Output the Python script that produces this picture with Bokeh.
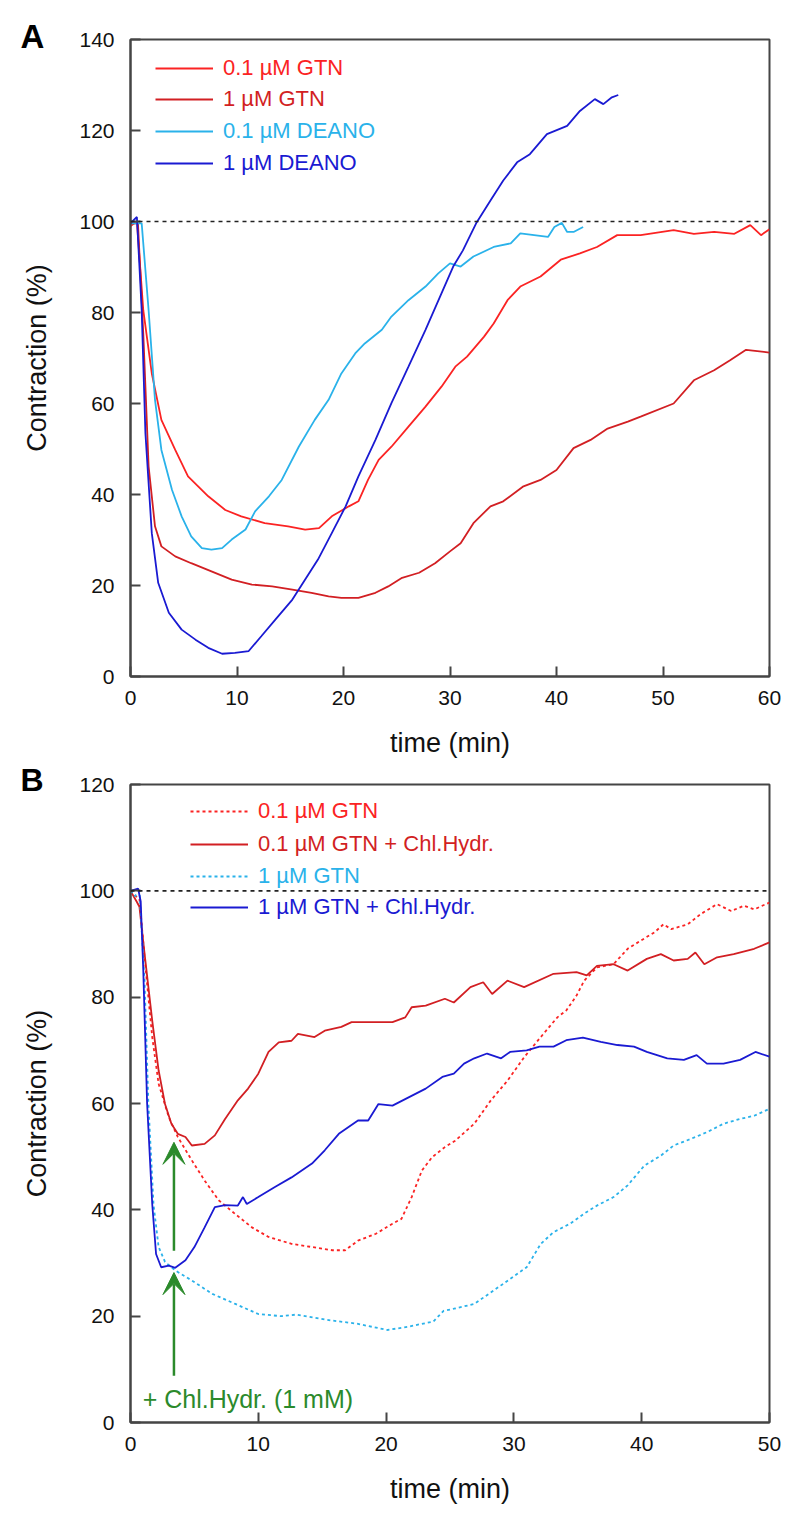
from bokeh.plotting import figure
from bokeh.models import (Range1d, Legend, LegendItem, Label, Arrow, VeeHead,
                          Span, FixedTicker, ColumnDataSource)
from bokeh.layouts import column
from bokeh.embed import file_html
from bokeh.resources import INLINE

# ---------------- data: panel A ----------------
a_gtn01_x = [0, 0.6, 1.2, 2.0, 2.9, 4.2, 5.4, 7.3, 8.9, 10.4, 12.6, 14.8, 16.4, 17.7, 18.9,
             20.5, 21.4, 22.3, 23.3, 24.5, 26.1, 27.7, 29.2, 30.5, 31.6, 33.2, 34.1, 35.4,
             36.6, 38.5, 40.4, 42.2, 43.8, 45.7, 47.9, 51.0, 52.9, 54.8, 56.7, 58.2, 59.2, 60]
a_gtn01_y = [99, 100, 80.5, 66.6, 56.4, 49.8, 44, 39.6, 36.6, 35.2, 33.7, 33.0, 32.3, 32.6, 35.2,
             37.4, 38.5, 43.2, 47.6, 50.5, 54.9, 59.3, 63.7, 68.1, 70.3, 74.7, 77.6, 82.7,
             85.7, 87.9, 91.6, 93.0, 94.4, 97.0, 97.0, 98.1, 97.3, 97.7, 97.3, 99.2, 97.0, 98.3]

a_gtn1_x = [0, 0.7, 1.2, 1.7, 2.3, 2.9, 4.2, 5.7, 7.6, 9.5, 11.4, 13.3, 15.2, 17.0, 18.6, 19.8,
            21.4, 23.0, 24.2, 25.5, 27.1, 28.6, 30.0, 31.0, 32.2, 33.8, 35.0, 36.9, 38.5, 40.0,
            41.6, 43.2, 44.8, 46.7, 47.9, 51.0, 52.9, 54.8, 56.3, 57.8, 60]
a_gtn1_y = [99.6, 99.6, 75.4, 46.2, 33.0, 28.6, 26.4, 24.9, 23.1, 21.3, 20.2, 19.8, 19.1, 18.4, 17.6, 17.3,
            17.3, 18.4, 19.8, 21.7, 22.8, 24.9, 27.5, 29.3, 33.7, 37.4, 38.5, 41.8, 43.2, 45.4,
            50.2, 52.0, 54.5, 56.0, 57.1, 60.0, 65.1, 67.3, 69.5, 71.8, 71.2]

a_deano01_x = [0, 1.05, 1.7, 2.3, 2.9, 3.9, 4.8, 5.7, 6.7, 7.6, 8.6, 9.5, 10.8, 11.7, 13.0, 14.2,
               15.8, 17.3, 18.6, 19.8, 21.1, 22.0, 23.6, 24.5, 26.1, 27.7, 28.9, 30.0, 31.0, 32.2,
               34.1, 35.7, 36.6, 37.9, 39.2, 39.8, 40.5, 41.0, 41.6, 42.5]
a_deano01_y = [99.6, 99.6, 80.5, 60.8, 49.8, 41, 35.2, 30.8, 28.2, 27.9, 28.2, 30.1, 32.3, 36.3, 39.6, 43.2,
               50.5, 56.4, 60.8, 66.6, 71.0, 73.2, 76.2, 79.1, 82.7, 85.7, 88.6, 90.8, 90.1, 92.3,
               94.4, 95.2, 97.4, 97.0, 96.6, 98.8, 99.7, 97.7, 97.7, 98.8]

a_deano1_x = [0, 0.6, 1.05, 1.4, 2.0, 2.6, 3.6, 4.8, 6.1, 7.3, 8.6, 9.8, 11.1, 12.3, 13.6, 15.2,
              16.4, 17.6, 18.9, 20.2, 21.4, 23.0, 24.5, 26.1, 27.7, 29.2, 30.3, 31.2, 32.5, 33.8,
              35.0, 36.3, 37.5, 39.1, 41.0, 42.2, 43.6, 44.4, 45.2, 45.8]
a_deano1_y = [99.6, 101, 80.5, 53.5, 31.5, 20.6, 14.0, 10.3, 8.1, 6.3, 5.0, 5.2, 5.6, 8.9, 12.5, 16.9,
              21.3, 25.7, 31.5, 37.4, 44.0, 52.0, 60.1, 68.1, 76.2, 84.2, 90.1, 93.6, 99.8, 104.6,
              109, 113, 114.8, 119.2, 121.0, 124.3, 126.9, 125.8, 127.3, 127.8]

# ---------------- data: panel B ----------------
b_gtn01_x = [0, 0.35, 0.7, 1.1, 1.7, 2.2, 3.0, 3.7, 4.8, 5.8, 6.9, 8.2, 9.5, 10.8, 12.6, 14.2,
             15.8, 16.8, 17.8, 19.2, 20.5, 21.2, 22.0, 22.8, 23.6, 24.6, 25.4, 26.9, 28.2, 29.5,
             30.8, 32.1, 33.4, 34.1, 34.9, 35.5, 36.5, 37.8, 38.9, 39.9, 41.0, 41.7, 42.3, 43.6,
             44.6, 45.9, 47.0, 48.0, 48.8, 50]
b_gtn01_y = [100, 99.1, 98.5, 87.5, 72.5, 63.7, 57.4, 53.7, 49.3, 45.5, 41.8, 39.2, 36.7, 34.9, 33.6, 33.0,
             32.4, 32.4, 34.2, 35.5, 37.4, 38.3, 42.4, 47.4, 49.9, 51.8, 53.0, 56.2, 60.6, 64.3,
             68.7, 72.5, 76.2, 77.5, 80.3, 83.1, 85.6, 86.2, 89.1, 90.6, 92.2, 93.7, 92.8, 93.7,
             95.6, 97.5, 96.2, 97.2, 96.5, 97.8]

b_gtn01_chl_x = [0, 0.5, 0.7, 1.1, 1.7, 2.2, 2.7, 3.2, 3.7, 4.3, 4.8, 5.8, 6.6, 7.4, 8.4, 9.2, 10.0,
                 10.8, 11.6, 12.6, 13.1, 14.4, 15.2, 16.5, 17.3, 19.1, 20.5, 21.5, 22.0, 23.1, 24.6,
                 25.3, 26.6, 27.6, 28.3, 29.5, 30.8, 33.1, 34.9, 35.7, 36.5, 37.8, 38.9, 40.4, 41.5,
                 42.5, 43.6, 44.2, 44.9, 45.9, 47.2, 48.8, 50]
b_gtn01_chl_y = [100, 97.9, 97, 88.2, 75.6, 66.2, 59.9, 56.2, 54.3, 53.7, 52.1, 52.4, 54.0, 57.1, 60.6, 62.8, 65.6,
                 69.7, 71.5, 71.8, 73.1, 72.5, 73.7, 74.4, 75.3, 75.3, 75.3, 76.2, 78.1, 78.4, 79.7,
                 79.0, 81.9, 82.8, 80.6, 83.1, 81.9, 84.4, 84.7, 84.1, 85.9, 86.2, 85.0, 87.2, 88.1,
                 86.9, 87.2, 88.4, 86.2, 87.5, 88.1, 89.1, 90.3]

b_gtn1_x = [0, 0.35, 0.7, 1.1, 1.4, 1.8, 2.2, 2.7, 3.5, 4.8, 6.4, 8.2, 10.0, 11.8, 13.0, 15.7,
            17.7, 20.1, 21.7, 23.7, 24.5, 25.3, 26.9, 28.4, 29.7, 31.0, 32.1, 33.1, 34.4, 35.5,
            36.5, 37.8, 38.9, 40.2, 41.5, 42.5, 43.8, 45.1, 46.4, 47.7, 48.8, 50]
b_gtn1_y = [100, 99, 100, 83, 60, 41, 33, 30.2, 28.6, 26.7, 24.2, 22.3, 20.4, 20.0, 20.3, 19.2,
            18.6, 17.4, 18.0, 19.0, 21.0, 21.4, 22.3, 24.8, 27.0, 29.2, 33.6, 35.8, 37.4, 39.3,
            40.8, 42.4, 44.6, 48.3, 50.2, 52.1, 53.3, 54.6, 56.2, 57.1, 57.7, 59.0]

b_gtn1_chl_x = [0, 0.6, 0.8, 1.0, 1.3, 1.7, 2.0, 2.4, 3.0, 3.5, 4.3, 5.0, 5.8, 6.6, 7.4, 8.4, 8.8,
                9.1, 10.0, 11.3, 12.6, 14.2, 15.2, 16.3, 17.8, 18.6, 19.4, 20.5, 21.8, 23.1, 24.4,
                25.3, 26.1, 26.9, 27.9, 29.0, 29.7, 31.0, 32.0, 33.1, 34.1, 35.4, 36.8, 38.1, 39.4,
                40.4, 42.0, 43.3, 44.3, 45.1, 46.4, 47.7, 48.9, 50]
b_gtn1_chl_y = [100, 100.4, 98, 85, 60, 41.1, 31.7, 29.2, 29.5, 29.1, 30.5, 33.0, 36.7, 40.5, 40.9, 40.8, 42.4,
                41.1, 42.4, 44.3, 46.1, 48.7, 51.2, 54.3, 56.8, 56.8, 59.9, 59.6, 61.2, 62.8, 65.0,
                65.6, 67.5, 68.5, 69.4, 68.5, 69.7, 70.0, 70.7, 70.7, 71.9, 72.4, 71.6, 71.0, 70.7,
                69.7, 68.5, 68.2, 69.1, 67.5, 67.5, 68.2, 69.7, 68.8]

# Chloral hydrate addition arrows (panel B)
arrow_x = [3.4, 3.4]
arrow_y0 = [32.3, 8.8]
arrow_y1 = [52.7, 28.2]

a_labels = ["0.1 µM GTN", "1 µM GTN", "0.1 µM DEANO", "1 µM DEANO"]
b_labels = ["0.1 µM GTN", "0.1 µM GTN + Chl.Hydr.", "1 µM GTN", "1 µM GTN + Chl.Hydr."]
a_yticks = [0, 20, 40, 60, 80, 100, 120, 140]
a_xticks = [0, 10, 20, 30, 40, 50, 60]
b_yticks = [0, 20, 40, 60, 80, 100, 120]
b_xticks = [0, 10, 20, 30, 40, 50]

RED = "#fb2323"
DRED = "#d21f23"
LBLUE = "#2ab2ea"
BLUE = "#1a1ad2"
GREEN = "#2b8a2b"
FRAME = "#454545"
FONT = "Liberation Sans"
FRAME_H = 638


def make_fig(xmax, ymax, xticks, yticks, height, btop, bbot, panel_letter,
             letter_size, letter_standoff):
    p = figure(width=800, height=height, x_range=Range1d(0, xmax), y_range=Range1d(0, ymax),
               output_backend="svg", toolbar_location=None,
               min_border_left=130, min_border_right=31,
               min_border_top=btop, min_border_bottom=bbot)
    p.grid.visible = False
    p.outline_line_color = FRAME
    p.outline_line_width = 2
    p.background_fill_color = "white"
    p.border_fill_color = "white"
    p.xaxis.ticker = FixedTicker(ticks=xticks)
    p.yaxis.ticker = FixedTicker(ticks=yticks)
    for ax in (p.xaxis[0], p.yaxis[0]):
        ax.major_tick_in = 10
        ax.major_tick_out = 0
        ax.minor_tick_line_color = None
        ax.major_tick_line_color = FRAME
        ax.major_tick_line_width = 2
        ax.axis_line_color = FRAME
        ax.axis_line_width = 2
        ax.major_label_text_font = FONT
        ax.major_label_text_font_size = "21px"
        ax.major_label_text_color = "#111111"
        ax.axis_label_text_font = FONT
        ax.axis_label_text_font_size = "27px"
        ax.axis_label_text_font_style = "normal"
        ax.axis_label_text_color = "#111111"
    p.xaxis.axis_label = "time (min)"
    p.yaxis.axis_label = "Contraction (%)"
    p.xaxis.major_label_standoff = 14
    p.xaxis.axis_label_standoff = 20
    p.yaxis.major_label_standoff = 16
    p.yaxis.axis_label_standoff = 24
    p.add_layout(Span(location=100, dimension="width", line_dash="4 4",
                      line_color="#222222", line_width=1.6))
    # panel letter
    p.title.text = panel_letter
    p.title.align = "left"
    p.title.offset = -110
    p.title.text_font = FONT
    p.title.text_font_size = letter_size
    p.title.text_font_style = "bold"
    p.title.text_color = "black"
    p.title.vertical_align = "bottom"
    p.title.standoff = letter_standoff
    return p


def add_legend(p, renderer, label, color, xoff, row_center_from_top):
    vy = FRAME_H - row_center_from_top - 12
    lg = Legend(items=[LegendItem(label=label, renderers=[renderer])],
                location=(xoff, vy), padding=0, margin=0, spacing=0,
                glyph_width=58, glyph_height=24, label_height=24, label_standoff=10,
                label_text_font=FONT, label_text_font_size="22px",
                label_text_color=color, background_fill_alpha=0,
                border_line_color=None)
    p.add_layout(lg)


# ---------------- panel A ----------------
pA = make_fig(60, 140, a_xticks, a_yticks, 760, 39, 83, "A", "33px", -30)
rA = [
    pA.line(a_gtn01_x, a_gtn01_y, line_color=RED, line_width=1.8),
    pA.line(a_gtn1_x, a_gtn1_y, line_color=DRED, line_width=1.8),
    pA.line(a_deano01_x, a_deano01_y, line_color=LBLUE, line_width=1.8),
    pA.line(a_deano1_x, a_deano1_y, line_color=BLUE, line_width=1.8),
]
for r, lab, col, rc in zip(rA, a_labels, [RED, DRED, LBLUE, BLUE], [31, 62, 94, 126]):
    add_legend(pA, r, lab, col, 25, rc)

# ---------------- panel B ----------------
pB = make_fig(50, 120, b_xticks, b_yticks, 752, 24, 90, "B", "32px", -26)
rB = [
    pB.line(b_gtn01_x, b_gtn01_y, line_color=RED, line_width=1.8, line_dash="3 3"),
    pB.line(b_gtn01_chl_x, b_gtn01_chl_y, line_color=DRED, line_width=1.8),
    pB.line(b_gtn1_x, b_gtn1_y, line_color=LBLUE, line_width=1.8, line_dash="3 3"),
    pB.line(b_gtn1_chl_x, b_gtn1_chl_y, line_color=BLUE, line_width=1.8),
]
for r, lab, col, rc in zip(rB, b_labels, [RED, DRED, LBLUE, BLUE], [28, 61, 93, 124]):
    add_legend(pB, r, lab, col, 60, rc)

arr_src = ColumnDataSource(dict(x0=arrow_x, y0=arrow_y0, x1=arrow_x, y1=arrow_y1))
pB.add_layout(Arrow(end=VeeHead(size=22, fill_color=GREEN, line_color=GREEN),
                    x_start="x0", y_start="y0", x_end="x1", y_end="y1",
                    source=arr_src, line_color=GREEN, line_width=2.5))
pB.add_layout(Label(x=0.95, y=4.5, text="+ Chl.Hydr. (1 mM)", text_font=FONT,
                    text_font_size="25px", text_color=GREEN, text_baseline="middle"))

layout = column(pA, pB, spacing=0)
open("out.html", "w").write(file_html(layout, INLINE))
